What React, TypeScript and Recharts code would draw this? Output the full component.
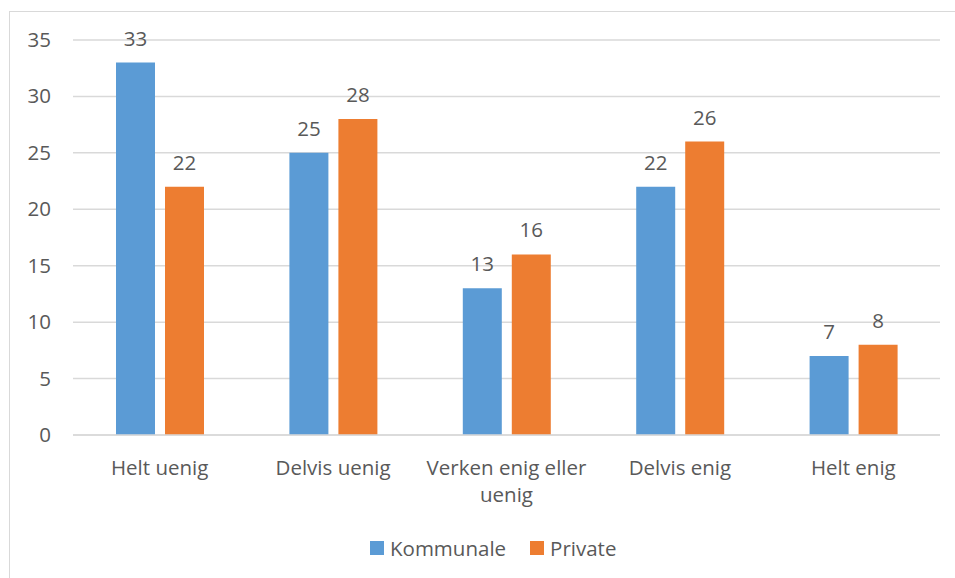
import React from 'react';
import { BarChart, Bar, XAxis, YAxis, CartesianGrid, LabelList } from 'recharts';

const categories = ['Helt uenig', 'Delvis uenig', 'Verken enig eller uenig', 'Delvis enig', 'Helt enig'];
const kommunale = [33, 25, 13, 22, 7];
const privateVals = [22, 28, 16, 26, 8];
const yTicks = [0, 5, 10, 15, 20, 25, 30, 35];
const seriesNames = ['Kommunale', 'Private'];

const data = categories.map((c, i) => ({ name: c, kommunale: kommunale[i], private: privateVals[i] }));

const FONT = '"Open Sans", sans-serif';
const TXT = '#595959';
const BLUE = '#5B9BD5';
const ORANGE = '#ED7D31';
const FS = 20.5;

function wrap(label: string, maxChars: number): string[] {
  const words = label.split(' ');
  const lines: string[] = [];
  let cur = '';
  for (const w of words) {
    const t = cur ? cur + ' ' + w : w;
    if (t.length > maxChars && cur) {
      lines.push(cur);
      cur = w;
    } else cur = t;
  }
  if (cur) lines.push(cur);
  return lines;
}

const XTick = (props: any) => {
  const { x, payload } = props;
  const lines = wrap(payload.value, 18);
  return (
    <g>
      {lines.map((l, i) => (
        <text key={i} x={x} y={475 + i * 27} textAnchor="middle" fill={TXT} fontFamily={FONT} fontSize={FS}>
          {l}
        </text>
      ))}
    </g>
  );
};

const YTick = (props: any) => {
  const { y, payload } = props;
  return (
    <text x={51} y={y + 7} textAnchor="end" fill={TXT} fontFamily={FONT} fontSize={FS}>
      {payload.value}
    </text>
  );
};

const BarLabel = (props: any) => {
  const { x, y, width, value } = props;
  return (
    <text x={x + width / 2} y={y - 17} textAnchor="middle" fill={TXT} fontFamily={FONT} fontSize={FS}>
      {value}
    </text>
  );
};

export default function App() {
  return (
    <div style={{ position: 'absolute', left: 0, top: 0, width: 955, height: 578, background: '#fff', overflow: 'hidden' }}>
      <div
        style={{
          position: 'absolute',
          left: 9,
          top: 11,
          width: 1000,
          height: 600,
          border: '1.5px solid #d9d9d9',
          boxSizing: 'border-box',
        }}
      />
      <div style={{ position: 'absolute', left: 0, top: 0 }}>
        <BarChart
          width={955}
          height={578}
          data={data}
          margin={{ top: 40, right: 15, bottom: 0, left: 0 }}
          barSize={39}
          barGap={10}
        >
          <CartesianGrid vertical={false} stroke="#d9d9d9" strokeWidth={1.5} />
          <XAxis
            dataKey="name"
            axisLine={{ stroke: '#d9d9d9', strokeWidth: 1.5 }}
            tickLine={false}
            tick={<XTick />}
            interval={0}
            height={143}
          />
          <YAxis
            width={73}
            domain={[0, 35]}
            ticks={yTicks}
            axisLine={false}
            tickLine={false}
            tick={<YTick />}
            interval={0}
          />
          <Bar dataKey="kommunale" name={seriesNames[0]} fill={BLUE} isAnimationActive={false}>
            <LabelList dataKey="kommunale" content={<BarLabel />} />
          </Bar>
          <Bar dataKey="private" name={seriesNames[1]} fill={ORANGE} isAnimationActive={false}>
            <LabelList dataKey="private" content={<BarLabel />} />
          </Bar>
        </BarChart>
      </div>
      <div
        style={{
          position: 'absolute',
          left: 370,
          top: 534,
          display: 'flex',
          alignItems: 'center',
          fontFamily: FONT,
          fontSize: FS,
          color: TXT,
          whiteSpace: 'nowrap',
        }}
      >
        <span style={{ display: 'inline-block', width: 14, height: 14, background: BLUE, marginRight: 6 }} />
        <span style={{ marginRight: 24 }}>{seriesNames[0]}</span>
        <span style={{ display: 'inline-block', width: 14, height: 14, background: ORANGE, marginRight: 6 }} />
        <span>{seriesNames[1]}</span>
      </div>
    </div>
  );
}
